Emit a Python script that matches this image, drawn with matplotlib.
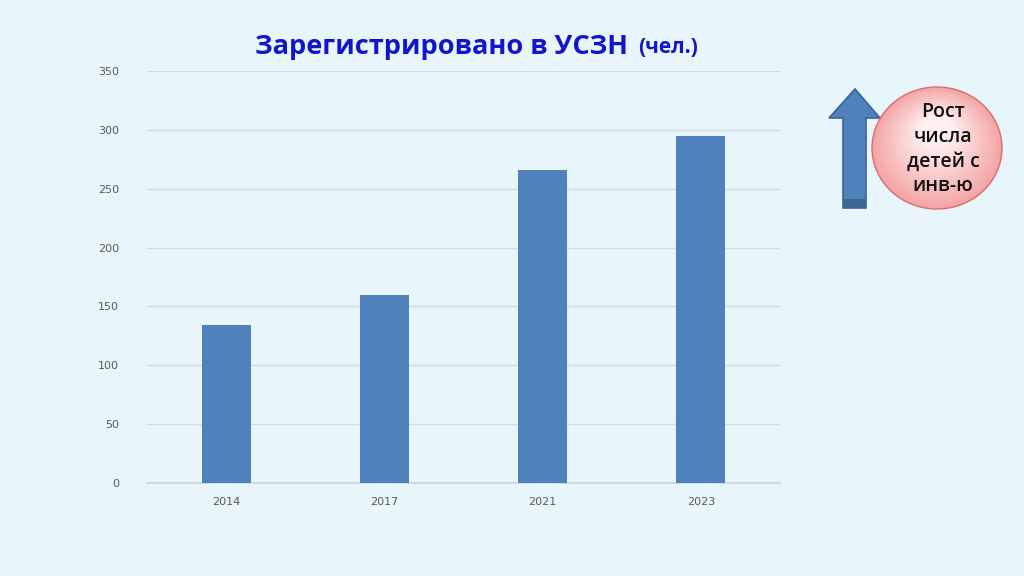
import numpy as np
import matplotlib.pyplot as plt
from matplotlib.patches import Ellipse, Polygon, Rectangle

years = ['2014', '2017', '2021', '2023']
counts = [134, 160, 266, 295]
y_ticks = [0, 50, 100, 150, 200, 250, 300, 350]

BG = '#E8F6FC'
BAR = '#4F81BD'

fig = plt.figure(figsize=(10.24, 5.76), dpi=100, facecolor=BG)
ax = fig.add_axes([0.1436, 0.1615, 0.618, 0.7152], facecolor=BG)

x = np.arange(len(years))
ax.bar(x, counts, width=0.31, color=BAR, zorder=3)
ax.set_xlim(-0.5, len(years) - 0.5)
ax.set_ylim(0, 350)
ax.set_yticks(y_ticks)
ax.set_xticks(x)
ax.set_xticklabels(years)
ax.grid(axis='y', color='#CFDDE6', linewidth=1, zorder=0)
ax.axhline(0, color='#C8D6DF', linewidth=1.2, zorder=2, clip_on=False)
for s in ax.spines.values():
    s.set_visible(False)
ax.tick_params(length=0, colors='#595959', labelsize=8, pad=10)
ax.tick_params(axis='y', pad=20)

# title
fig.text(0.613, 0.918, 'Зарегистрировано в УСЗН', ha='right', va='center',
         fontsize=19.5, fontweight='bold', color='#1414CC', family='Open Sans')
fig.text(0.623, 0.918, '(чел.)', ha='left', va='center',
         fontsize=15, fontweight='bold', color='#1414CC', family='Open Sans')

# decoration overlay in pixel coords
ov = fig.add_axes([0, 0, 1, 1], facecolor='none')
ov.set_xlim(0, 1024)
ov.set_ylim(576, 0)
ov.axis('off')

arrow = Polygon([[843, 208], [843, 118], [829, 118], [855, 89], [880, 118],
                 [866, 118], [866, 208]], closed=True,
                facecolor=BAR, edgecolor='#3A6596', linewidth=1.2)
ov.add_patch(arrow)
ov.add_patch(Rectangle((843, 199), 23, 9, facecolor='#3B6593', edgecolor='none'))

cx, cy, w, h = 937, 148, 130, 122
steps = 25
c_out = np.array([0xF5, 0xA5, 0xA5]) / 255
c_in = np.array([0xFE, 0xF0, 0xF0]) / 255
for i in range(steps):
    t = i / (steps - 1)
    col = c_out * (1 - t) + c_in * t
    ov.add_patch(Ellipse((cx, cy - 18 * t), w * (1 - 0.75 * t), h * (1 - 0.75 * t),
                         facecolor=col, edgecolor='none'))
ov.add_patch(Ellipse((cx, cy), w, h, facecolor='none', edgecolor='#D86E6E', linewidth=1))
ov.text(cx + 6, cy + 1, 'Рост\nчисла\nдетей с\nинв-ю', ha='center', va='center',
        fontsize=14, fontweight='semibold', color='#111111', family='Open Sans',
        linespacing=1.32)

fig.savefig('out.png', dpi=100, facecolor=BG)
